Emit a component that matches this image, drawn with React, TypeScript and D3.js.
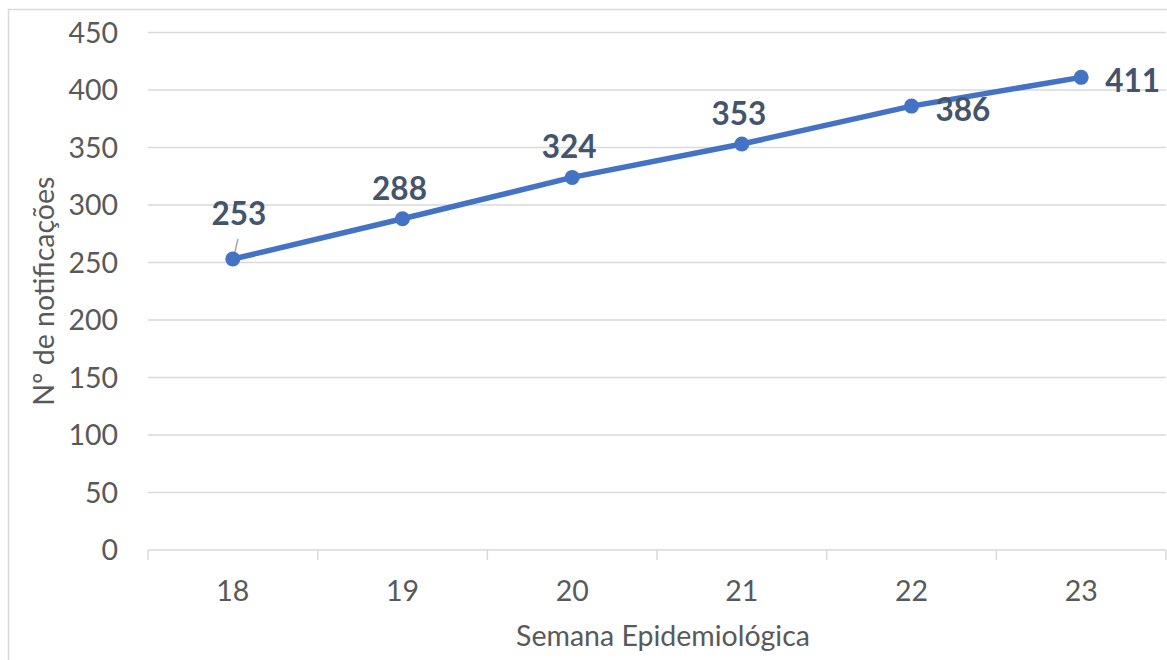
import * as d3 from "d3";
import { useEffect, useRef } from "react";

const weeks = ["18", "19", "20", "21", "22", "23"];
const notifications = [253, 288, 324, 353, 386, 411];
const yTicks = [0, 50, 100, 150, 200, 250, 300, 350, 400, 450];
const labelPlacement = ["leader", "above", "above", "above", "right", "right"];

const xTitle = "Semana Epidemiológica";
const yTitle = "Nº de notificações";

const App = () => {
  const svgRef = useRef(null);

  const width = 1167;
  const height = 660;

  useEffect(() => {
    const svg = d3.select(svgRef.current);
    svg.selectAll("*").remove();

    const font = "Lato, 'Open Sans', sans-serif";
    const grid = "#D9D9D9";
    const tickColor = "#595959";
    const lineColor = "#4472C4";
    const labelColor = "#44546A";

    const margin = { top: 32.5, right: 1, bottom: 110, left: 148 };

    svg
      .append("rect")
      .attr("x", 8.5)
      .attr("y", 9.5)
      .attr("width", width + 20)
      .attr("height", height + 20)
      .attr("fill", "white")
      .attr("stroke", grid)
      .attr("stroke-width", 1.5);

    const x = d3
      .scaleBand()
      .domain(weeks)
      .range([margin.left, width - margin.right]);

    const y = d3
      .scaleLinear()
      .domain([0, 450])
      .range([height - margin.bottom, margin.top]);

    // gridlines
    svg
      .append("g")
      .selectAll("line")
      .data(yTicks.filter((t) => t > 0))
      .join("line")
      .attr("x1", margin.left)
      .attr("x2", width - margin.right)
      .attr("y1", (d) => y(d))
      .attr("y2", (d) => y(d))
      .attr("stroke", grid)
      .attr("stroke-width", 1.5);

    // y tick labels
    svg
      .append("g")
      .selectAll("text")
      .data(yTicks)
      .join("text")
      .attr("x", 118)
      .attr("y", (d) => y(d))
      .attr("dy", "0.36em")
      .attr("text-anchor", "end")
      .attr("font-family", font)
      .attr("font-size", 28.5)
      .attr("fill", tickColor)
      .text((d) => d);

    // x axis line + ticks
    const y0 = y(0);
    svg
      .append("line")
      .attr("x1", margin.left)
      .attr("x2", width - margin.right)
      .attr("y1", y0)
      .attr("y2", y0)
      .attr("stroke", grid)
      .attr("stroke-width", 1.5);

    const bounds = weeks.map((w) => x(w) as number).concat([x.range()[1]]);
    svg
      .append("g")
      .selectAll("line")
      .data(bounds)
      .join("line")
      .attr("x1", (d) => d)
      .attr("x2", (d) => d)
      .attr("y1", y0)
      .attr("y2", y0 + 10)
      .attr("stroke", grid)
      .attr("stroke-width", 1.5);

    const cx = (w: string) => (x(w) as number) + x.bandwidth() / 2;

    svg
      .append("g")
      .selectAll("text")
      .data(weeks)
      .join("text")
      .attr("x", (d) => cx(d))
      .attr("y", y0 + 51)
      .attr("text-anchor", "middle")
      .attr("font-family", font)
      .attr("font-size", 28.5)
      .attr("fill", tickColor)
      .text((d) => d);

    // axis titles
    svg
      .append("text")
      .attr("x", (margin.left + width - margin.right) / 2 + 6)
      .attr("y", 646)
      .attr("text-anchor", "middle")
      .attr("font-family", font)
      .attr("font-size", 28.5)
      .attr("fill", tickColor)
      .text(xTitle);

    svg
      .append("text")
      .attr("transform", `translate(54,${(margin.top + y0) / 2}) rotate(-90)`)
      .attr("text-anchor", "middle")
      .attr("font-family", font)
      .attr("font-size", 28.5)
      .attr("fill", tickColor)
      .text(yTitle);

    const pts = weeks.map((w, i) => ({ w, v: notifications[i], p: labelPlacement[i] }));

    const line = d3
      .line<{ w: string; v: number }>()
      .x((d) => cx(d.w))
      .y((d) => y(d.v));

    svg
      .append("path")
      .datum(pts)
      .attr("fill", "none")
      .attr("stroke", lineColor)
      .attr("stroke-width", 5.5)
      .attr("stroke-linejoin", "round")
      .attr("stroke-linecap", "round")
      .attr("d", line as any);

    // leader line for first label
    pts
      .filter((d) => d.p === "leader")
      .forEach((d) => {
        svg
          .append("line")
          .attr("x1", cx(d.w) + 5)
          .attr("y1", y(d.v) - 20)
          .attr("x2", cx(d.w) + 1)
          .attr("y2", y(d.v) - 2)
          .attr("stroke", "#A6A6A6")
          .attr("stroke-width", 1.5);
      });

    svg
      .append("g")
      .selectAll("circle")
      .data(pts)
      .join("circle")
      .attr("cx", (d) => cx(d.w))
      .attr("cy", (d) => y(d.v))
      .attr("r", 7.5)
      .attr("fill", lineColor);

    svg
      .append("g")
      .selectAll("text")
      .data(pts)
      .join("text")
      .attr("x", (d) =>
        d.p === "right" ? cx(d.w) + 24 : d.p === "leader" ? cx(d.w) + 6 : cx(d.w) - 3
      )
      .attr("y", (d) =>
        d.p === "right" ? y(d.v) + 15 : d.p === "leader" ? y(d.v) - 34 : y(d.v) - 19
      )
      .attr("text-anchor", (d) => (d.p === "right" ? "start" : "middle"))
      .attr("font-family", font)
      .attr("font-weight", "bold")
      .attr("font-size", 31.5)
      .attr("fill", labelColor)
      .text((d) => d.v);
  }, []);

  return (
    <div style={{ position: "fixed", left: 0, top: 0 }}>
      <svg width={width} height={height} ref={svgRef} style={{ display: "block" }} />
    </div>
  );
};

export default App;
